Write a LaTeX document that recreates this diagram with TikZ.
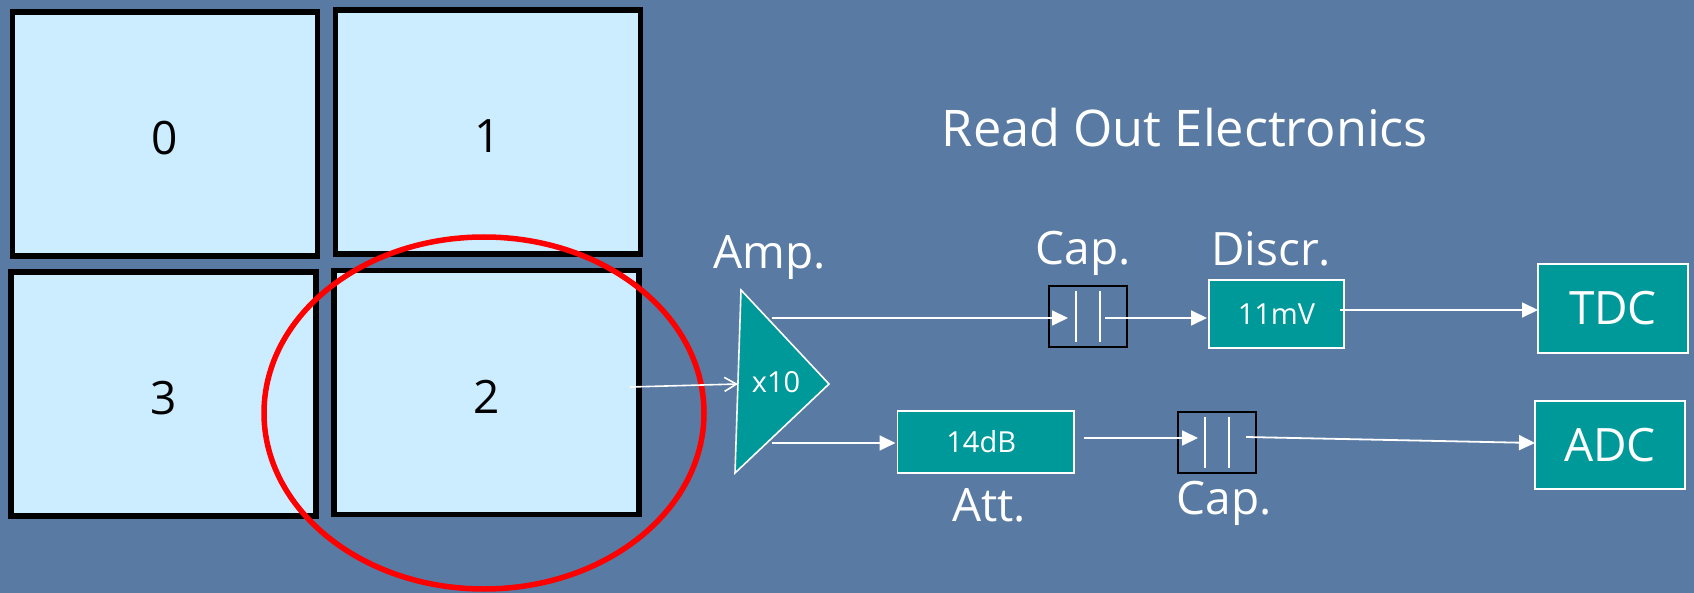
\documentclass[tikz,border=0pt]{standalone}
\usepackage{fontspec}
\setmainfont{Open Sans}
\usepackage{xcolor}
\usepackage{tikz}
\usetikzlibrary{
  arrows.meta,
  positioning,
  calc,
  shapes.geometric
}
\definecolor{fundo}{HTML}{597AA2}
\definecolor{quadrofill}{HTML}{CCECFF}
\definecolor{verde}{HTML}{009999}

\begin{document}
\begin{tikzpicture}[
      x=1pt, y=-1pt,
      quadro/.style={draw=black, fill=quadrofill, line width=5.5pt, outer sep=0pt, inner sep=0pt, minimum width=305pt, minimum height=244pt, text height=41pt, text depth=0pt, font=\fontsize{46}{46}\selectfont},
      bloco/.style={draw=white, fill=verde, line width=1.6pt, outer sep=0pt, inner sep=0pt, text=white},
      capbox/.style={draw=black, line width=2pt, outer sep=0pt, inner sep=0pt, minimum width=78pt, minimum height=61pt},
      placa/.style={draw=white, line width=1.2pt},
      rotulo/.style={text=white, anchor=base, inner sep=0pt, font=\fontsize{46}{46}\selectfont},
      menor/.style={font=\fontsize{29}{29}\selectfont},
      maior/.style={font=\fontsize{46}{46}\selectfont},
      seta/.style={draw=white, line width=1.8pt, -{Triangle[length=16pt, width=15pt]}, shorten >=0pt},
      setafina/.style={draw=white, line width=1.6pt, -{Straight Barb[length=12pt, width=14pt]}}
  ]
    \useasboundingbox [fill=fundo] (0,0) rectangle (1694,593);

    % Quadrantes
    \node [quadro] (q0) at (165,134) {0};
    \node [quadro, right=18pt of q0, yshift=2pt] (q1) {1};
    \node [quadro, below=16pt of q0, xshift=-1.6pt] (q3) {3};
    \node [quadro, right=18pt of q3, yshift=1.5pt] (q2) {2};
    \node [ellipse, draw=red, line width=5.5pt, inner sep=0pt, outer sep=0pt, minimum width=440pt, minimum height=352pt] (marca) at (484,413) {};

    \node [rotulo, font=\fontsize{50.5}{50.5}\selectfont] (titulo) at (1185,146.7) {Read Out Electronics};

    % Amplificador
    \coordinate (ampa) at (741,290);
    \coordinate (ampb) at (829,384);
    \coordinate (ampc) at (735,473);
    \draw [bloco] (ampa) -- (ampb) -- (ampc) -- cycle;
    \node [text=white, menor, inner sep=0pt] (amp) at (776,382) {x10};
    \node [rotulo] (lamp) at (770,269) {Amp.};
    \coordinate (ampent) at (738,384);
    \coordinate (ampsup) at (772,318);
    \coordinate (ampinf) at (772,443);
    \coordinate (q2sai) at (630,387);

    % Ramo superior
    \node [capbox] (capa) at (1088,316.5) {};
    \node [bloco, menor, minimum width=135pt, minimum height=68pt, right=82pt of capa, yshift=2.5pt] (disc) {11mV};
    \node [bloco, maior, minimum width=150pt, minimum height=89pt, right=194pt of disc, yshift=5.5pt] (tdc) {TDC};
    \node [rotulo] (lcapa) at (1083,265) {Cap.};
    \node [rotulo] (ldisc) at (1271,266) {Discr.};

    % Ramo inferior
    \node [bloco, menor, minimum width=176.5pt, minimum height=62pt] (att) at (985.75,442) {\kern-9pt 14dB};
    \node [capbox, right=104pt of att, yshift=-0.5pt] (capb) {};
    \node [bloco, maior, minimum width=150pt, minimum height=88pt, right=279pt of capb, yshift=-2.5pt] (adc) {ADC};
    \node [rotulo] (latt) at (989,521) {Att.};
    \node [rotulo] (lcapb) at (1224,514) {Cap.};

    % Placas dos capacitores
    \foreach \c in {capa,capb}
      \foreach \dx in {-12,12}
        \draw [placa] ($(\c.north)+(\dx,5)$) -- ($(\c.south)+(\dx,-5)$);

    % Ligacoes
    \draw [setafina] (q2sai) -- (ampent);
    \draw [seta] (ampsup) -- ($(capa.west)+(19,1.5)$);
    \draw [seta] ($(capa.east)+(-22,1.5)$) -- ($(disc.west)+(-2,4)$);
    \draw [seta] ($(disc.east)+(-4,-4)$) -- (tdc.west |- 0,310);
    \draw [seta] (ampinf) -- ($(att.west)+(-2,1)$);
    \draw [seta] ($(att.east)+(10,-4)$) -- ($(capb.west)+(20,-4.5)$);
    \draw [seta] ($(capb.east)+(-10,-5.5)$) -- ($(adc.west)+(0,-2)$);
  \end{tikzpicture}
\end{document}
